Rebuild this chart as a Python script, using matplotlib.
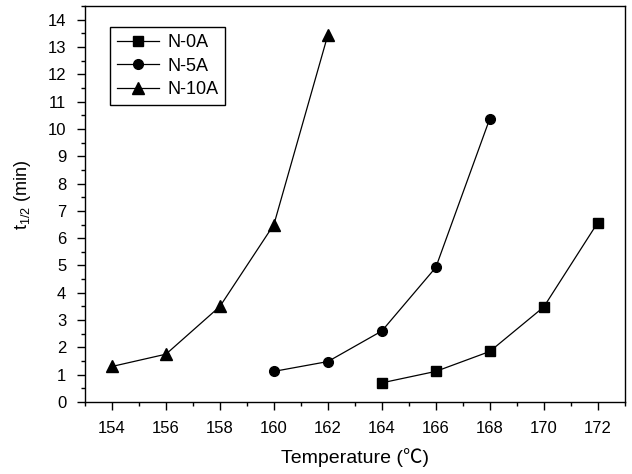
import matplotlib
matplotlib.use("Agg")
import matplotlib.pyplot as plt
from matplotlib.ticker import MultipleLocator

plt.rcParams['font.family'] = ['Liberation Sans', 'Noto Sans CJK SC', 'DejaVu Sans']
plt.rcParams['mathtext.fontset'] = 'custom'
plt.rcParams['mathtext.rm'] = 'Liberation Sans'
plt.rcParams['mathtext.it'] = 'Liberation Sans'

# data
temp_0a = [164, 166, 168, 170, 172]
t_0a = [0.70, 1.12, 1.85, 3.48, 6.57]
temp_5a = [160, 162, 164, 166, 168]
t_5a = [1.12, 1.48, 2.60, 4.93, 10.38]
temp_10a = [154, 156, 158, 160, 162]
t_10a = [1.30, 1.75, 3.50, 6.50, 13.45]

fig = plt.figure(figsize=(6.32, 4.74), dpi=100)
ax = fig.add_axes([0.1345, 0.152, 0.854, 0.835])

ax.plot(temp_0a, t_0a, 'k-', marker='s', ms=6.5, lw=0.9, label='N-0A')
ax.plot(temp_5a, t_5a, 'k-', marker='o', ms=7, lw=0.9, label='N-5A')
ax.plot(temp_10a, t_10a, 'k-', marker='^', ms=8, lw=0.9, label='N-10A')

ax.set_xlim(153, 173)
ax.set_ylim(0, 14.5)
ax.xaxis.set_major_locator(MultipleLocator(2))
ax.xaxis.set_minor_locator(MultipleLocator(1))
ax.yaxis.set_major_locator(MultipleLocator(1))
ax.yaxis.set_minor_locator(MultipleLocator(0.5))
ax.tick_params(which='major', direction='out', length=5.5, width=1, labelsize=12, pad=8)
ax.tick_params(which='minor', direction='out', length=3, width=1)
for sp in ax.spines.values():
    sp.set_linewidth(1)

ax.set_xlabel('Temperature (℃)', fontsize=14, labelpad=9)
ax.set_ylabel('t$_{1/2}$ (min)', fontsize=13)
ax.yaxis.set_label_coords(-0.096, 0.524)

leg = ax.legend(loc='upper left', bbox_to_anchor=(0.046, 0.947), borderaxespad=0,
                fontsize=13, fancybox=False, edgecolor='black', framealpha=1,
                handlelength=2.33, handletextpad=0.44, labelspacing=0.35,
                borderpad=0.4)
leg.get_frame().set_linewidth(1)

plt.savefig('out.png', dpi=100)
